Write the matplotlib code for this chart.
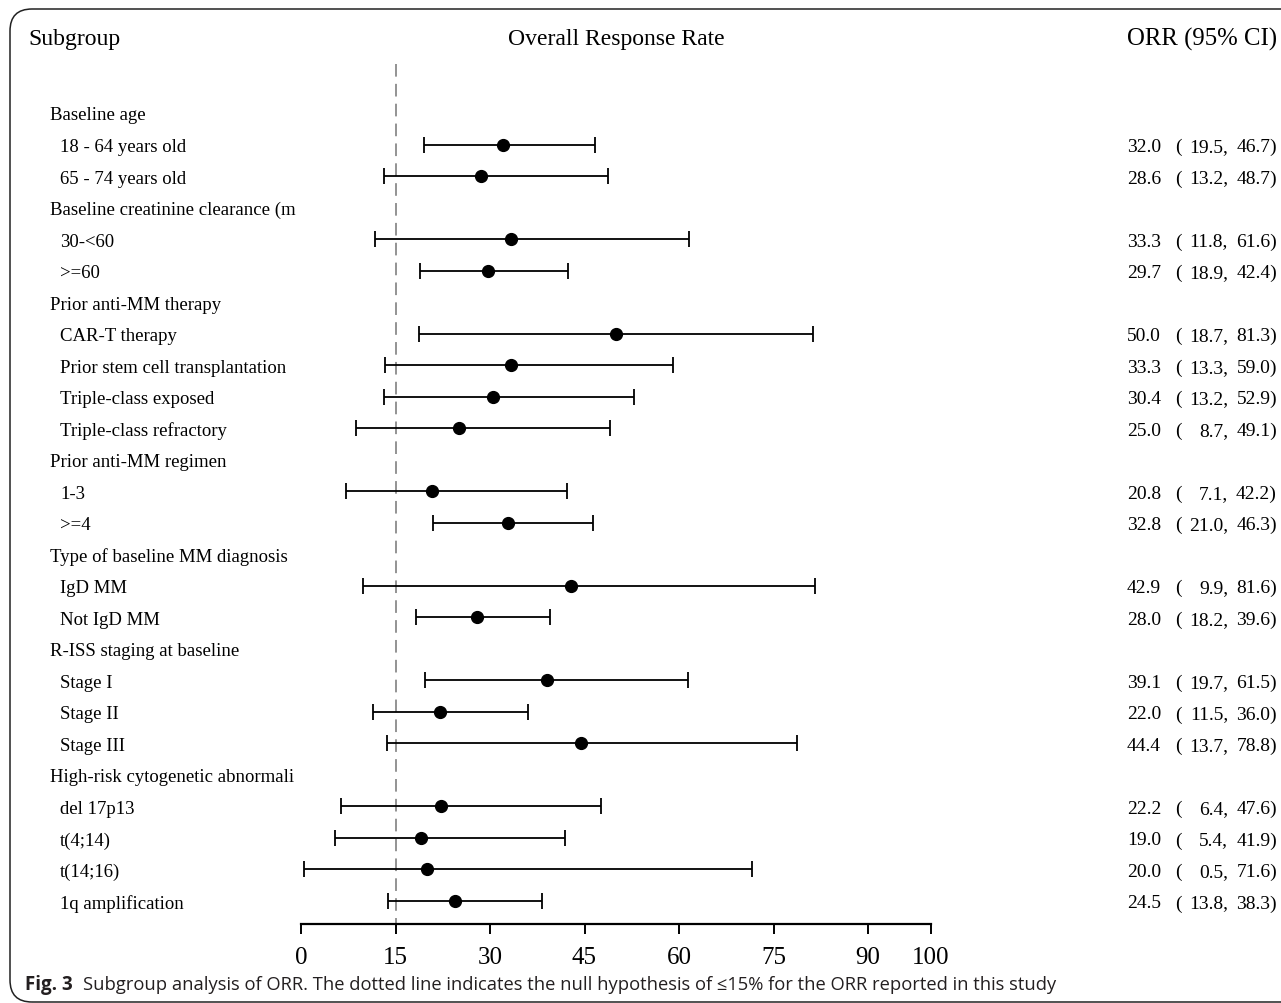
import matplotlib
matplotlib.use('Agg')
import matplotlib.pyplot as plt
import matplotlib.transforms as mtransforms
from matplotlib.patches import FancyBboxPatch

# rows of the forest plot, top to bottom; headers have no values
labels = ['Baseline age', '18 - 64 years old', '65 - 74 years old',
          'Baseline creatinine clearance (m', '30-<60', '>=60',
          'Prior anti-MM therapy', 'CAR-T therapy', 'Prior stem cell transplantation',
          'Triple-class exposed', 'Triple-class refractory',
          'Prior anti-MM regimen', '1-3', '>=4',
          'Type of baseline MM diagnosis', 'IgD MM', 'Not IgD MM',
          'R-ISS staging at baseline', 'Stage I', 'Stage II', 'Stage III',
          'High-risk cytogenetic abnormali', 'del 17p13', 't(4;14)', 't(14;16)', '1q amplification']
is_header = [True, False, False,
             True, False, False,
             True, False, False, False, False,
             True, False, False,
             True, False, False,
             True, False, False, False,
             True, False, False, False, False]
orr = [None, 32.0, 28.6, None, 33.3, 29.7, None, 50.0, 33.3, 30.4, 25.0,
       None, 20.8, 32.8, None, 42.9, 28.0, None, 39.1, 22.0, 44.4,
       None, 22.2, 19.0, 20.0, 24.5]
ci_low = [None, 19.5, 13.2, None, 11.8, 18.9, None, 18.7, 13.3, 13.2, 8.7,
          None, 7.1, 21.0, None, 9.9, 18.2, None, 19.7, 11.5, 13.7,
          None, 6.4, 5.4, 0.5, 13.8]
ci_high = [None, 46.7, 48.7, None, 61.6, 42.4, None, 81.3, 59.0, 52.9, 49.1,
           None, 42.2, 46.3, None, 81.6, 39.6, None, 61.5, 36.0, 78.8,
           None, 47.6, 41.9, 71.6, 38.3]
x_ticks = [0, 15, 30, 45, 60, 75, 90, 100]
null_orr = 15

W, H = 1281, 1004
fig = plt.figure(figsize=(W / 100, H / 100), dpi=100)
serif = 'Liberation Serif'

# plot area: 0..100 spans pixels 301..931, rows from y=114 px with 31.52 px spacing
ax = fig.add_axes([301 / W, 1 - 925 / H, 630 / W, (925 - 65) / H])
row_gap = 31.52
ax.set_xlim(0, 100)
ax.set_ylim((925 - 114) / row_gap, -(114 - 65) / row_gap)
for s in ['top', 'right', 'left']:
    ax.spines[s].set_visible(False)
ax.spines['bottom'].set_linewidth(1.6)
ax.set_yticks([])
ax.set_xticks(x_ticks)
ax.set_xticklabels([str(t) for t in x_ticks], fontsize=18, family=serif)
ax.tick_params(axis='x', direction='out', length=7.5, width=1.4, pad=8)

ax.plot([null_orr, null_orr], [ax.get_ylim()[1], (935 - 114) / row_gap], color='#8a8a8a',
        linestyle=(0, (7, 4)), linewidth=1.3, clip_on=False, zorder=1)

rows = range(len(labels))
for i in rows:
    if orr[i] is None:
        continue
    ax.errorbar(orr[i], i, xerr=[[orr[i] - ci_low[i]], [ci_high[i] - orr[i]]],
                fmt='o', color='black', markersize=8.5, elinewidth=1.3,
                capsize=6, capthick=1.3, zorder=3)

tr = mtransforms.blended_transform_factory(fig.transFigure, ax.transData)
va = 'center_baseline'
for i in rows:
    x0 = 50 if is_header[i] else 60
    fig.text(x0 / W, i, labels[i], transform=tr, fontsize=13.5, family=serif, va=va)
    if orr[i] is None:
        continue
    fig.text(1161 / W, i, '%.1f' % orr[i], transform=tr, fontsize=14, family=serif,
             va=va, ha='right')
    fig.text(1175 / W, i, '(', transform=tr, fontsize=14, family=serif, va=va)
    fig.text(1228 / W, i, '%.1f,' % ci_low[i], transform=tr, fontsize=14, family=serif,
             va=va, ha='right')
    fig.text(1277 / W, i, '%.1f)' % ci_high[i], transform=tr, fontsize=14, family=serif,
             va=va, ha='right')

# column headers
fig.text(28 / W, 1 - 37 / H, 'Subgroup', fontsize=17, family=serif, va=va)
fig.text(616 / W, 1 - 37 / H, 'Overall Response Rate', fontsize=17, family=serif,
         va=va, ha='center')
fig.text(1277 / W, 1 - 37 / H, 'ORR (95% CI)', fontsize=17.8, family=serif,
         va=va, ha='right')

# caption
fig.text(25 / W, 1 - 985 / H, 'Fig. 3', fontsize=13.5, family='Open Sans',
         fontweight='bold', va='center', color='#231f20')
fig.text(83 / W, 1 - 985 / H,
         'Subgroup analysis of ORR. The dotted line indicates the null hypothesis of '
         '\u226415% for the ORR reported in this study',
         fontsize=13.25, family='Open Sans', va='center', color='#231f20')

# rounded frame around the figure (pixel coordinates)
frame = FancyBboxPatch((10, 1), 1320, H - 11, boxstyle='round,pad=0,rounding_size=22',
                       transform=mtransforms.IdentityTransform(), fill=False,
                       edgecolor='#222222', linewidth=1.1)
fig.add_artist(frame)

fig.savefig('out.png', dpi=100)
